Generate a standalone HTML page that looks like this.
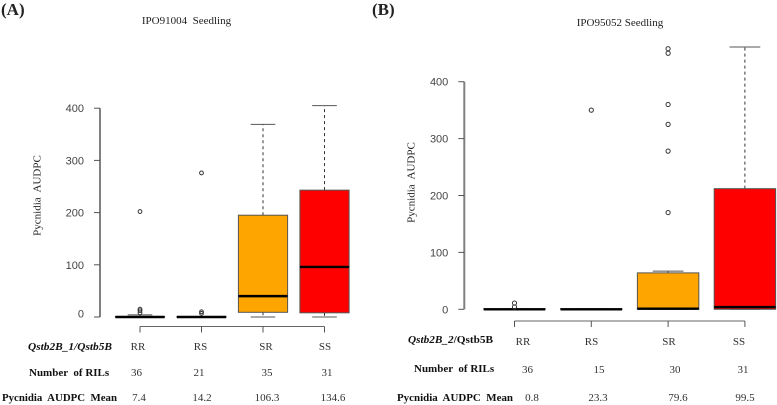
<!DOCTYPE html>
<html lang="en">
<head>
<meta charset="utf-8">
<title>Pycnidia AUDPC boxplots</title>
<style>
html,body{margin:0;padding:0;background:#fff;width:777px;height:405px;overflow:hidden}
svg{display:block;filter:blur(0.3px)}
text{font-family:"Liberation Serif",serif;fill:#222}
.tick{font-family:"Liberation Sans",sans-serif;font-size:11px;fill:#444}
.row{font-size:11px;font-weight:bold;fill:#111}
.val{font-size:11px;text-anchor:middle;fill:#333}
</style>
</head>
<body>
<svg id="figure" width="777" height="405" viewBox="0 0 777 405" xmlns="http://www.w3.org/2000/svg">
  <text x="1" y="15" font-size="17" font-weight="bold" style="fill:#222">(A)</text>
  <text x="372" y="15" font-size="17" font-weight="bold" style="fill:#222">(B)</text>
  <text x="186.5" y="24" font-size="11" text-anchor="middle" xml:space="preserve">IPO91004  Seedling</text>
  <text x="620" y="26" font-size="11" text-anchor="middle">IPO95052 Seedling</text>
  <text transform="translate(40.5,195.5) rotate(-90)" font-size="11" text-anchor="middle" xml:space="preserve">Pycnidia  AUDPC</text>
  <text transform="translate(414.5,182.5) rotate(-90)" font-size="11" text-anchor="middle" xml:space="preserve">Pycnidia  AUDPC</text>

  <g id="panel-a"></g>
  <g id="panel-b"></g>

  <g>
    <text class="row" x="28" y="350" font-style="italic" textLength="84" lengthAdjust="spacingAndGlyphs">Qstb2B_1/Qstb5B</text>
    <text class="row" x="29" y="376" xml:space="preserve">Number  of RILs</text>
    <text class="row" x="2" y="401" xml:space="preserve" textLength="115" lengthAdjust="spacingAndGlyphs">Pycnidia  AUDPC  Mean</text>
    <text class="val" x="138" y="350">RR</text>
    <text class="val" x="200.5" y="350">RS</text>
    <text class="val" x="266" y="350">SR</text>
    <text class="val" x="325" y="350">SS</text>
    <text class="val" x="136.5" y="376">36</text>
    <text class="val" x="199" y="376">21</text>
    <text class="val" x="267" y="376">35</text>
    <text class="val" x="327" y="376">31</text>
    <text class="val" x="139" y="401">7.4</text>
    <text class="val" x="202" y="401">14.2</text>
    <text class="val" x="267" y="401">106.3</text>
    <text class="val" x="333" y="401">134.6</text>
  </g>
  <g>
    <text class="row" x="408" y="343" textLength="85" lengthAdjust="spacingAndGlyphs"><tspan font-style="italic">Qstb2B_2</tspan>/Qstb5B</text>
    <text class="row" x="414" y="372" xml:space="preserve">Number  of RILs</text>
    <text class="row" x="397" y="401" xml:space="preserve" textLength="116" lengthAdjust="spacingAndGlyphs">Pycnidia  AUDPC  Mean</text>
    <text class="val" x="523" y="345">RR</text>
    <text class="val" x="591.5" y="345">RS</text>
    <text class="val" x="669" y="345">SR</text>
    <text class="val" x="739" y="345">SS</text>
    <text class="val" x="527.5" y="373">36</text>
    <text class="val" x="599" y="373">15</text>
    <text class="val" x="675" y="373">30</text>
    <text class="val" x="743" y="373">31</text>
    <text class="val" x="532" y="401">0.8</text>
    <text class="val" x="598" y="401">23.3</text>
    <text class="val" x="678" y="401">79.6</text>
    <text class="val" x="745" y="401">99.5</text>
  </g>
</svg>
<script>
const categories = ['RR', 'RS', 'SR', 'SS'];
const yTicks = [0, 100, 200, 300, 400];

const aQ1 = [0, 0, 9, 8];
const aMedian = [0, 0, 40, 96];
const aQ3 = [1, 1, 195, 243];
const aWhiskerLow = [0, 0, 0, 0];
const aWhiskerHigh = [4, 1, 369, 405];
const aOutliers = [[202, 15, 12, 8], [276, 10, 7], [], []];

const bQ1 = [0, 0, 0, 0];
const bMedian = [0, 0, 1, 4];
const bQ3 = [1, 1, 64, 212];
const bWhiskerLow = [0, 0, 0, 0];
const bWhiskerHigh = [1, 1, 67, 461];
const bOutliers = [[11, 4], [350], [458, 450, 360, 325, 278, 170], []];

const SVG_NS = 'http://www.w3.org/2000/svg';

function addEl(parent, tag, attrs) {
  const el = document.createElementNS(SVG_NS, tag);
  for (const key in attrs) el.setAttribute(key, attrs[key]);
  parent.appendChild(el);
  return el;
}

function drawPanel(cfg) {
  const g = document.getElementById(cfg.id);
  const yScale = v => cfg.y0 - v * cfg.pxPerUnit;
  const xScale = i => cfg.x0 + i * cfg.step;
  const boxW = cfg.step * 0.8;
  const capW = cfg.step * 0.4;

  const yAxis = addEl(g, 'line', {x1: cfg.axisX, x2: cfg.axisX, y1: yScale(yTicks[0]), y2: yScale(yTicks[yTicks.length - 1]), stroke: '#808080', 'stroke-width': 2});
  
  

  yTicks.forEach(t => {
    const tick = addEl(g, 'line', {x1: cfg.axisX - 6, x2: cfg.axisX, y1: yScale(t), y2: yScale(t), stroke: '#555', 'stroke-width': 1});
    
    
    const lift = t === 0 ? cfg.zeroLabelLift : 0;
    const label = addEl(g, 'text', {x: cfg.axisX - 16, y: yScale(t) + 4 - lift, 'text-anchor': 'end', class: 'tick'});
    
    
    label.textContent = t;
  });

  const xAxisY = cfg.y0 + cfg.xAxisGap;
  const xAxis = addEl(g, 'line', {x1: xScale(0), x2: xScale(categories.length - 1), y1: xAxisY, y2: xAxisY, stroke: '#666', 'stroke-width': 1});
  
  

  categories.forEach((c, i) => {
    const cx = xScale(i);
    const tick = addEl(g, 'line', {x1: cx, x2: cx, y1: xAxisY, y2: xAxisY + 6, stroke: '#555', 'stroke-width': 1});
    
    

    const upper = addEl(g, 'line', {x1: cx, x2: cx, y1: yScale(cfg.q3[i]), y2: yScale(cfg.whiskerHigh[i]), stroke: '#333', 'stroke-width': 1, 'stroke-dasharray': '3 3'});
    
    

    const capHigh = addEl(g, 'line', {x1: cx - capW / 2, x2: cx + capW / 2, y1: yScale(cfg.whiskerHigh[i]), y2: yScale(cfg.whiskerHigh[i]), stroke: '#555', 'stroke-width': 1});
    
    

    const lower = addEl(g, 'line', {x1: cx, x2: cx, y1: yScale(cfg.q1[i]), y2: yScale(cfg.whiskerLow[i]), stroke: '#333', 'stroke-width': 1, 'stroke-dasharray': '3 3'});
    
    

    const capLow = addEl(g, 'line', {x1: cx - capW / 2, x2: cx + capW / 2, y1: yScale(cfg.whiskerLow[i]), y2: yScale(cfg.whiskerLow[i]), stroke: '#555', 'stroke-width': 1});
    
    

    const box = addEl(g, 'rect', {x: cx - boxW / 2, y: yScale(cfg.q3[i]), width: boxW, height: yScale(cfg.q1[i]) - yScale(cfg.q3[i]), fill: cfg.colors[i], stroke: '#555', 'stroke-width': 1});
    
    

    const median = addEl(g, 'line', {x1: cx - boxW / 2, x2: cx + boxW / 2, y1: yScale(cfg.median[i]), y2: yScale(cfg.median[i]), stroke: '#000', 'stroke-width': 2.4});
    
    

    cfg.outliers[i].forEach((v, k) => {
      const pt = addEl(g, 'circle', {cx: cx, cy: yScale(v), r: cfg.pointR, fill: 'none', stroke: '#333', 'stroke-width': 1});
      
      
    });
  });
}

drawPanel({
  id: 'panel-a', prefix: 'a', y0: 317, pxPerUnit: 0.522, x0: 140, step: 61.5, axisX: 100, xAxisGap: 9.5, pointR: 1.9, zeroLabelLift: 3.5,
  colors: ['#ffffff', '#ffffff', '#ffa500', '#ff0000'],
  q1: aQ1, median: aMedian, q3: aQ3, whiskerLow: aWhiskerLow, whiskerHigh: aWhiskerHigh, outliers: aOutliers
});

drawPanel({
  id: 'panel-b', prefix: 'b', y0: 309.3, pxPerUnit: 0.569, x0: 514.5, step: 76.8, axisX: 464.3, xAxisGap: 11.7, pointR: 2.1, zeroLabelLift: 0,
  colors: ['#ffffff', '#ffffff', '#ffa500', '#ff0000'],
  q1: bQ1, median: bMedian, q3: bQ3, whiskerLow: bWhiskerLow, whiskerHigh: bWhiskerHigh, outliers: bOutliers
});
</script>
</body>
</html>
